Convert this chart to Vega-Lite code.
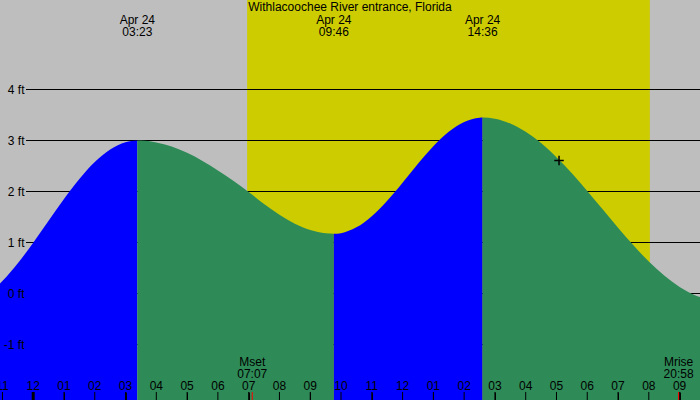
{
  "$schema": "https://vega.github.io/schema/vega-lite/v6.json",
  "width": 700,
  "height": 400,
  "autosize": {"type": "none"},
  "padding": 0,
  "background": "#BEBEBE",
  "config": {
    "view": {"stroke": null},
    "text": {"font": "Liberation Sans", "fontSize": 12, "color": "black"},
    "axisX": {"domain": false, "grid": false, "ticks": true, "tickSize": 8, "tickColor": "black", "tickWidth": 1, "labels": false, "labelOverlap": false, "labelFlush": false, "labelBound": false},
    "axisY": {"domain": false, "ticks": false, "grid": false, "labelAlign": "right", "labelBaseline": "middle", "labelPadding": -24, "labelFont": "Liberation Sans", "labelFontSize": 12, "labelColor": "black", "labelOverlap": false, "labelBound": false}
  },
  "datasets": {
    "tide": [
      {"time": "2024-04-23T22:55:17", "height": 0.196, "phase": "rising", "seg": 1},
      {"time": "2024-04-23T23:00:00", "height": 0.244, "phase": "rising", "seg": 1},
      {"time": "2024-04-23T23:30:00", "height": 0.592, "phase": "rising", "seg": 1},
      {"time": "2024-04-24T00:00:00", "height": 0.995, "phase": "rising", "seg": 1},
      {"time": "2024-04-24T00:30:00", "height": 1.426, "phase": "rising", "seg": 1},
      {"time": "2024-04-24T01:00:00", "height": 1.853, "phase": "rising", "seg": 1},
      {"time": "2024-04-24T01:30:00", "height": 2.245, "phase": "rising", "seg": 1},
      {"time": "2024-04-24T02:00:00", "height": 2.577, "phase": "rising", "seg": 1},
      {"time": "2024-04-24T02:30:00", "height": 2.823, "phase": "rising", "seg": 1},
      {"time": "2024-04-24T03:00:00", "height": 2.966, "phase": "rising", "seg": 1},
      {"time": "2024-04-24T03:23:00", "height": 3.0, "phase": "rising", "seg": 1},
      {"time": "2024-04-24T03:23:00", "height": 3.0, "phase": "falling", "seg": 2},
      {"time": "2024-04-24T03:30:00", "height": 2.999, "phase": "falling", "seg": 2},
      {"time": "2024-04-24T04:00:00", "height": 2.963, "phase": "falling", "seg": 2},
      {"time": "2024-04-24T04:30:00", "height": 2.882, "phase": "falling", "seg": 2},
      {"time": "2024-04-24T05:00:00", "height": 2.758, "phase": "falling", "seg": 2},
      {"time": "2024-04-24T05:30:00", "height": 2.6, "phase": "falling", "seg": 2},
      {"time": "2024-04-24T06:00:00", "height": 2.414, "phase": "falling", "seg": 2},
      {"time": "2024-04-24T06:30:00", "height": 2.211, "phase": "falling", "seg": 2},
      {"time": "2024-04-24T07:00:00", "height": 1.988, "phase": "falling", "seg": 2},
      {"time": "2024-04-24T07:30:00", "height": 1.754, "phase": "falling", "seg": 2},
      {"time": "2024-04-24T08:00:00", "height": 1.542, "phase": "falling", "seg": 2},
      {"time": "2024-04-24T08:30:00", "height": 1.368, "phase": "falling", "seg": 2},
      {"time": "2024-04-24T09:00:00", "height": 1.244, "phase": "falling", "seg": 2},
      {"time": "2024-04-24T09:30:00", "height": 1.179, "phase": "falling", "seg": 2},
      {"time": "2024-04-24T09:46:00", "height": 1.17, "phase": "falling", "seg": 2},
      {"time": "2024-04-24T09:46:00", "height": 1.17, "phase": "rising", "seg": 3},
      {"time": "2024-04-24T10:00:00", "height": 1.183, "phase": "rising", "seg": 3},
      {"time": "2024-04-24T10:30:00", "height": 1.297, "phase": "rising", "seg": 3},
      {"time": "2024-04-24T11:00:00", "height": 1.517, "phase": "rising", "seg": 3},
      {"time": "2024-04-24T11:30:00", "height": 1.82, "phase": "rising", "seg": 3},
      {"time": "2024-04-24T12:00:00", "height": 2.174, "phase": "rising", "seg": 3},
      {"time": "2024-04-24T12:30:00", "height": 2.543, "phase": "rising", "seg": 3},
      {"time": "2024-04-24T13:00:00", "height": 2.887, "phase": "rising", "seg": 3},
      {"time": "2024-04-24T13:30:00", "height": 3.171, "phase": "rising", "seg": 3},
      {"time": "2024-04-24T14:00:00", "height": 3.364, "phase": "rising", "seg": 3},
      {"time": "2024-04-24T14:30:00", "height": 3.448, "phase": "rising", "seg": 3},
      {"time": "2024-04-24T14:36:00", "height": 3.45, "phase": "rising", "seg": 3},
      {"time": "2024-04-24T14:36:00", "height": 3.45, "phase": "falling", "seg": 4},
      {"time": "2024-04-24T15:00:00", "height": 3.427, "phase": "falling", "seg": 4},
      {"time": "2024-04-24T15:30:00", "height": 3.333, "phase": "falling", "seg": 4},
      {"time": "2024-04-24T16:00:00", "height": 3.171, "phase": "falling", "seg": 4},
      {"time": "2024-04-24T16:30:00", "height": 2.949, "phase": "falling", "seg": 4},
      {"time": "2024-04-24T17:00:00", "height": 2.673, "phase": "falling", "seg": 4},
      {"time": "2024-04-24T17:30:00", "height": 2.356, "phase": "falling", "seg": 4},
      {"time": "2024-04-24T18:00:00", "height": 2.01, "phase": "falling", "seg": 4},
      {"time": "2024-04-24T18:30:00", "height": 1.65, "phase": "falling", "seg": 4},
      {"time": "2024-04-24T19:00:00", "height": 1.29, "phase": "falling", "seg": 4},
      {"time": "2024-04-24T19:30:00", "height": 0.944, "phase": "falling", "seg": 4},
      {"time": "2024-04-24T20:00:00", "height": 0.627, "phase": "falling", "seg": 4},
      {"time": "2024-04-24T20:30:00", "height": 0.351, "phase": "falling", "seg": 4},
      {"time": "2024-04-24T21:00:00", "height": 0.129, "phase": "falling", "seg": 4},
      {"time": "2024-04-24T21:30:00", "height": -0.033, "phase": "falling", "seg": 4},
      {"time": "2024-04-24T21:39:47", "height": -0.071, "phase": "falling", "seg": 4}
    ],
    "hours": [
      {"time": "2024-04-23T23:00:00"}, {"time": "2024-04-24T00:00:00"}, {"time": "2024-04-24T01:00:00"},
      {"time": "2024-04-24T02:00:00"}, {"time": "2024-04-24T03:00:00"}, {"time": "2024-04-24T04:00:00"},
      {"time": "2024-04-24T05:00:00"}, {"time": "2024-04-24T06:00:00"}, {"time": "2024-04-24T07:00:00"},
      {"time": "2024-04-24T08:00:00"}, {"time": "2024-04-24T09:00:00"}, {"time": "2024-04-24T10:00:00"},
      {"time": "2024-04-24T11:00:00"}, {"time": "2024-04-24T12:00:00"}, {"time": "2024-04-24T13:00:00"},
      {"time": "2024-04-24T14:00:00"}, {"time": "2024-04-24T15:00:00"}, {"time": "2024-04-24T16:00:00"},
      {"time": "2024-04-24T17:00:00"}, {"time": "2024-04-24T18:00:00"}, {"time": "2024-04-24T19:00:00"},
      {"time": "2024-04-24T20:00:00"}, {"time": "2024-04-24T21:00:00"}
    ],
    "day": [{"rise": "2024-04-24T06:57:00", "set": "2024-04-24T20:02:00"}],
    "levels": [{"level": -1}, {"level": 0}, {"level": 1}, {"level": 2}, {"level": 3}, {"level": 4}],
    "extremes": [
      {"time": "2024-04-24T03:23:00", "label": "Apr 24\n03:23"},
      {"time": "2024-04-24T09:46:00", "label": "Apr 24\n09:46"},
      {"time": "2024-04-24T14:36:00", "label": "Apr 24\n14:36"}
    ],
    "moon": [
      {"time": "2024-04-24T07:07:00", "label": "Mset\n07:07"},
      {"time": "2024-04-24T20:58:00", "label": "Mrise\n20:58"}
    ],
    "midnight": [{"time": "2024-04-24T00:00:00"}],
    "titles": [{"title": "Withlacoochee River entrance, Florida"}],
    "now": [{"time": "2024-04-24T17:05:00", "height": 2.61}]
  },
  "layer": [
    {
      "data": {"name": "day"},
      "mark": {"type": "rect", "color": "#CCCC00"},
      "encoding": {
        "x": {"field": "rise", "type": "temporal", "title": null,
              "scale": {"nice": false, "domain": [{"year": 2024, "month": 4, "date": 23, "hours": 22, "minutes": 55, "seconds": 17}, {"year": 2024, "month": 4, "date": 24, "hours": 21, "minutes": 39, "seconds": 47}]}},
        "x2": {"field": "set"}
      }
    },
    {
      "data": {"name": "levels"},
      "mark": {"type": "rule", "color": "black", "strokeWidth": 1},
      "encoding": {
        "y": {"field": "level", "type": "quantitative", "title": null,
              "scale": {"domain": [-2.0882, 5.7549], "nice": false, "zero": false}},
        "x": {"datum": {"year": 2024, "month": 4, "date": 23, "hours": 23, "minutes": 46}, "type": "temporal", "title": null},
        "x2": {"datum": {"year": 2024, "month": 4, "date": 24, "hours": 21, "minutes": 39, "seconds": 47}}
      }
    },
    {
      "data": {"name": "tide"},
      "mark": {"type": "area", "interpolate": "monotone"},
      "encoding": {
        "x": {"field": "time", "type": "temporal", "title": null,
              "axis": {"values": [
                {"year": 2024, "month": 4, "date": 23, "hours": 23},
                {"year": 2024, "month": 4, "date": 24, "hours": 0},
                {"year": 2024, "month": 4, "date": 24, "hours": 1},
                {"year": 2024, "month": 4, "date": 24, "hours": 2},
                {"year": 2024, "month": 4, "date": 24, "hours": 3},
                {"year": 2024, "month": 4, "date": 24, "hours": 4},
                {"year": 2024, "month": 4, "date": 24, "hours": 5},
                {"year": 2024, "month": 4, "date": 24, "hours": 6},
                {"year": 2024, "month": 4, "date": 24, "hours": 7},
                {"year": 2024, "month": 4, "date": 24, "hours": 8},
                {"year": 2024, "month": 4, "date": 24, "hours": 9},
                {"year": 2024, "month": 4, "date": 24, "hours": 10},
                {"year": 2024, "month": 4, "date": 24, "hours": 11},
                {"year": 2024, "month": 4, "date": 24, "hours": 12},
                {"year": 2024, "month": 4, "date": 24, "hours": 13},
                {"year": 2024, "month": 4, "date": 24, "hours": 14},
                {"year": 2024, "month": 4, "date": 24, "hours": 15},
                {"year": 2024, "month": 4, "date": 24, "hours": 16},
                {"year": 2024, "month": 4, "date": 24, "hours": 17},
                {"year": 2024, "month": 4, "date": 24, "hours": 18},
                {"year": 2024, "month": 4, "date": 24, "hours": 19},
                {"year": 2024, "month": 4, "date": 24, "hours": 20},
                {"year": 2024, "month": 4, "date": 24, "hours": 21}
              ],
              "orient": "bottom", "offset": -8, "zindex": 1, "labels": false, "title": null}},
        "y": {"field": "height", "type": "quantitative", "title": null, "stack": null,
              "axis": {"values": [-1, 0, 1, 2, 3, 4], "orient": "left", "labelExpr": "datum.value + ' ft'", "zindex": 1, "labelOverlap": false, "title": null}},
        "y2": {"datum": -2.0882},
        "color": {"field": "phase", "type": "nominal", "legend": null,
                  "scale": {"domain": ["rising", "falling"], "range": ["#0000FF", "#2E8B57"]}},
        "detail": {"field": "seg", "type": "nominal"}
      }
    },
    {
      "data": {"name": "hours"},
      "mark": {"type": "rule", "color": "black", "strokeWidth": 1},
      "encoding": {
        "x": {"field": "time", "type": "temporal", "title": null},
        "y": {"datum": -2.0882, "type": "quantitative", "title": null},
        "y2": {"datum": -1.931}
      }
    },
    {
      "data": {"name": "hours"},
      "mark": {"type": "text", "baseline": "alphabetic", "align": "center"},
      "encoding": {
        "x": {"field": "time", "type": "temporal", "title": null},
        "y": {"datum": -1.892, "type": "quantitative", "title": null},
        "text": {"field": "time", "type": "temporal", "format": "%I"}
      }
    },
    {
      "data": {"name": "midnight"},
      "mark": {"type": "rule", "color": "black", "strokeWidth": 3},
      "encoding": {
        "x": {"field": "time", "type": "temporal", "title": null},
        "y": {"datum": -2.0882, "type": "quantitative", "title": null},
        "y2": {"datum": -1.931}
      }
    },
    {
      "data": {"name": "moon"},
      "mark": {"type": "rule", "color": "#FF0000", "strokeWidth": 1},
      "encoding": {
        "x": {"field": "time", "type": "temporal", "title": null},
        "y": {"datum": -2.0882, "type": "quantitative", "title": null},
        "y2": {"datum": -1.931}
      }
    },
    {
      "data": {"name": "moon"},
      "mark": {"type": "text", "lineBreak": "\n", "lineHeight": 12, "baseline": "alphabetic", "align": "center"},
      "encoding": {
        "x": {"field": "time", "type": "temporal", "title": null},
        "y": {"datum": -1.422, "type": "quantitative", "title": null},
        "text": {"field": "label"}
      }
    },
    {
      "data": {"name": "extremes"},
      "mark": {"type": "text", "lineBreak": "\n", "lineHeight": 12, "baseline": "alphabetic", "align": "center"},
      "encoding": {
        "x": {"field": "time", "type": "temporal", "title": null},
        "y": {"datum": 5.284, "type": "quantitative", "title": null},
        "text": {"field": "label"}
      }
    },
    {
      "data": {"name": "titles"},
      "mark": {"type": "text", "baseline": "alphabetic", "align": "center"},
      "encoding": {
        "x": {"datum": {"year": 2024, "month": 4, "date": 24, "hours": 10, "minutes": 17, "seconds": 32}, "type": "temporal", "title": null},
        "y": {"datum": 5.539, "type": "quantitative", "title": null},
        "text": {"field": "title"}
      }
    },
    {
      "data": {"name": "now"},
      "mark": {"type": "point", "shape": "M-1,0L1,0M0,-1L0,1", "size": 90, "color": "black", "strokeWidth": 1.5, "filled": false, "opacity": 1},
      "encoding": {
        "x": {"field": "time", "type": "temporal", "title": null},
        "y": {"field": "height", "type": "quantitative", "title": null}
      }
    }
  ]
}
